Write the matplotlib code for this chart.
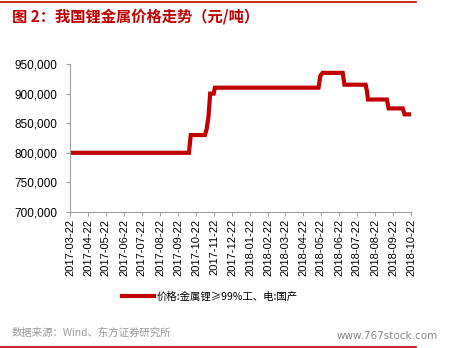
import matplotlib
matplotlib.use("Agg")
import matplotlib.pyplot as plt
import matplotlib.dates as mdates
from matplotlib.ticker import FuncFormatter
from matplotlib.lines import Line2D
import pandas as pd

plt.rcParams['font.family'] = ['Noto Sans CJK SC', 'DejaVu Sans']

# 金属锂价格 (元/吨), breakpoints of the step series
dates = ['2017-03-22', '2017-10-10', '2017-10-13', '2017-11-06', '2017-11-09',
         '2017-11-12', '2017-11-15', '2017-11-21', '2017-11-23', '2018-05-18',
         '2018-05-21', '2018-05-25', '2018-06-28', '2018-07-01', '2018-08-06',
         '2018-08-08', '2018-08-10', '2018-09-11', '2018-09-14', '2018-10-08',
         '2018-10-11', '2018-10-22']
prices = [800000, 800000, 830000, 830000, 840000,
          860000, 900000, 900000, 910000, 910000,
          930000, 935000, 935000, 915000, 915000,
          905000, 890000, 890000, 875000, 875000,
          865000, 865000]

# monthly ticks on the 22nd
tick_dates = pd.date_range('2017-03-01', '2018-10-01', freq='MS') + pd.Timedelta(days=21)
y_ticks = [700000, 750000, 800000, 850000, 900000, 950000]

title = '图 2：我国锂金属价格走势（元/吨）'
legend_label = '价格:金属锂≥99%工、电:国产'
source = '数据来源：Wind、东方证券研究所'

red = '#C00000'
gray = '#A0A0A0'

fig = plt.figure(figsize=(4.51, 3.48), dpi=100)
ax = fig.add_axes([70 / 451, 1 - 212 / 348, (411 - 70) / 451, (212 - 64) / 348])

x = pd.to_datetime(dates)
ax.plot(x, prices, color=red, lw=3, solid_joinstyle='miter')

ax.set_ylim(700000, 950000)
ax.set_yticks(y_ticks)
ax.yaxis.set_major_formatter(FuncFormatter(lambda v, p: f'{int(v):,}'))
ax.set_xlim(tick_dates[0], tick_dates[-1])
ax.set_xticks(tick_dates)
ax.xaxis.set_major_formatter(mdates.DateFormatter('%Y-%m-%d'))

for lab in ax.get_xticklabels():
    lab.set_rotation(90)
    lab.set_family('Liberation Sans')
    lab.set_fontsize(8)
for lab in ax.get_yticklabels():
    lab.set_family('Liberation Sans')
    lab.set_fontsize(8.5)

ax.spines['top'].set_visible(False)
ax.spines['right'].set_visible(False)
ax.spines['left'].set_color(gray)
ax.spines['bottom'].set_color(gray)
ax.tick_params(axis='both', colors=gray, length=3, width=0.8, labelcolor='black')
ax.tick_params(axis='y', pad=6)
ax.tick_params(axis='x', pad=2)

# legend
handle = Line2D([], [], color=red, lw=3)
fig.legend([handle], [legend_label], loc='center left',
           bbox_to_anchor=(113 / 451, 1 - 297 / 348), frameon=False,
           handlelength=3.0, handletextpad=0.3, prop={'size': 7.5, 'family': 'Noto Sans CJK SC'})

# header / footer
fig.add_artist(Line2D([0, 416 / 451], [1 - 2 / 348, 1 - 2 / 348], color=red, lw=1.2))
fig.add_artist(Line2D([0, 416 / 451], [1 - 347 / 348, 1 - 347 / 348], color=red, lw=1.2))
fig.text(12 / 451, 1 - 17 / 348, title, color=red, fontsize=11, fontweight='bold',
         va='center', ha='left')
fig.text(12 / 451, 1 - 333 / 348, source, color='#999999', fontsize=7.5,
         va='center', ha='left')
fig.text(438 / 451, 1 - 336 / 348, 'www.767stock.com', color='#888888', fontsize=7.5,
         va='center', ha='right', family='DejaVu Sans')

fig.savefig('out.png', dpi=100)
